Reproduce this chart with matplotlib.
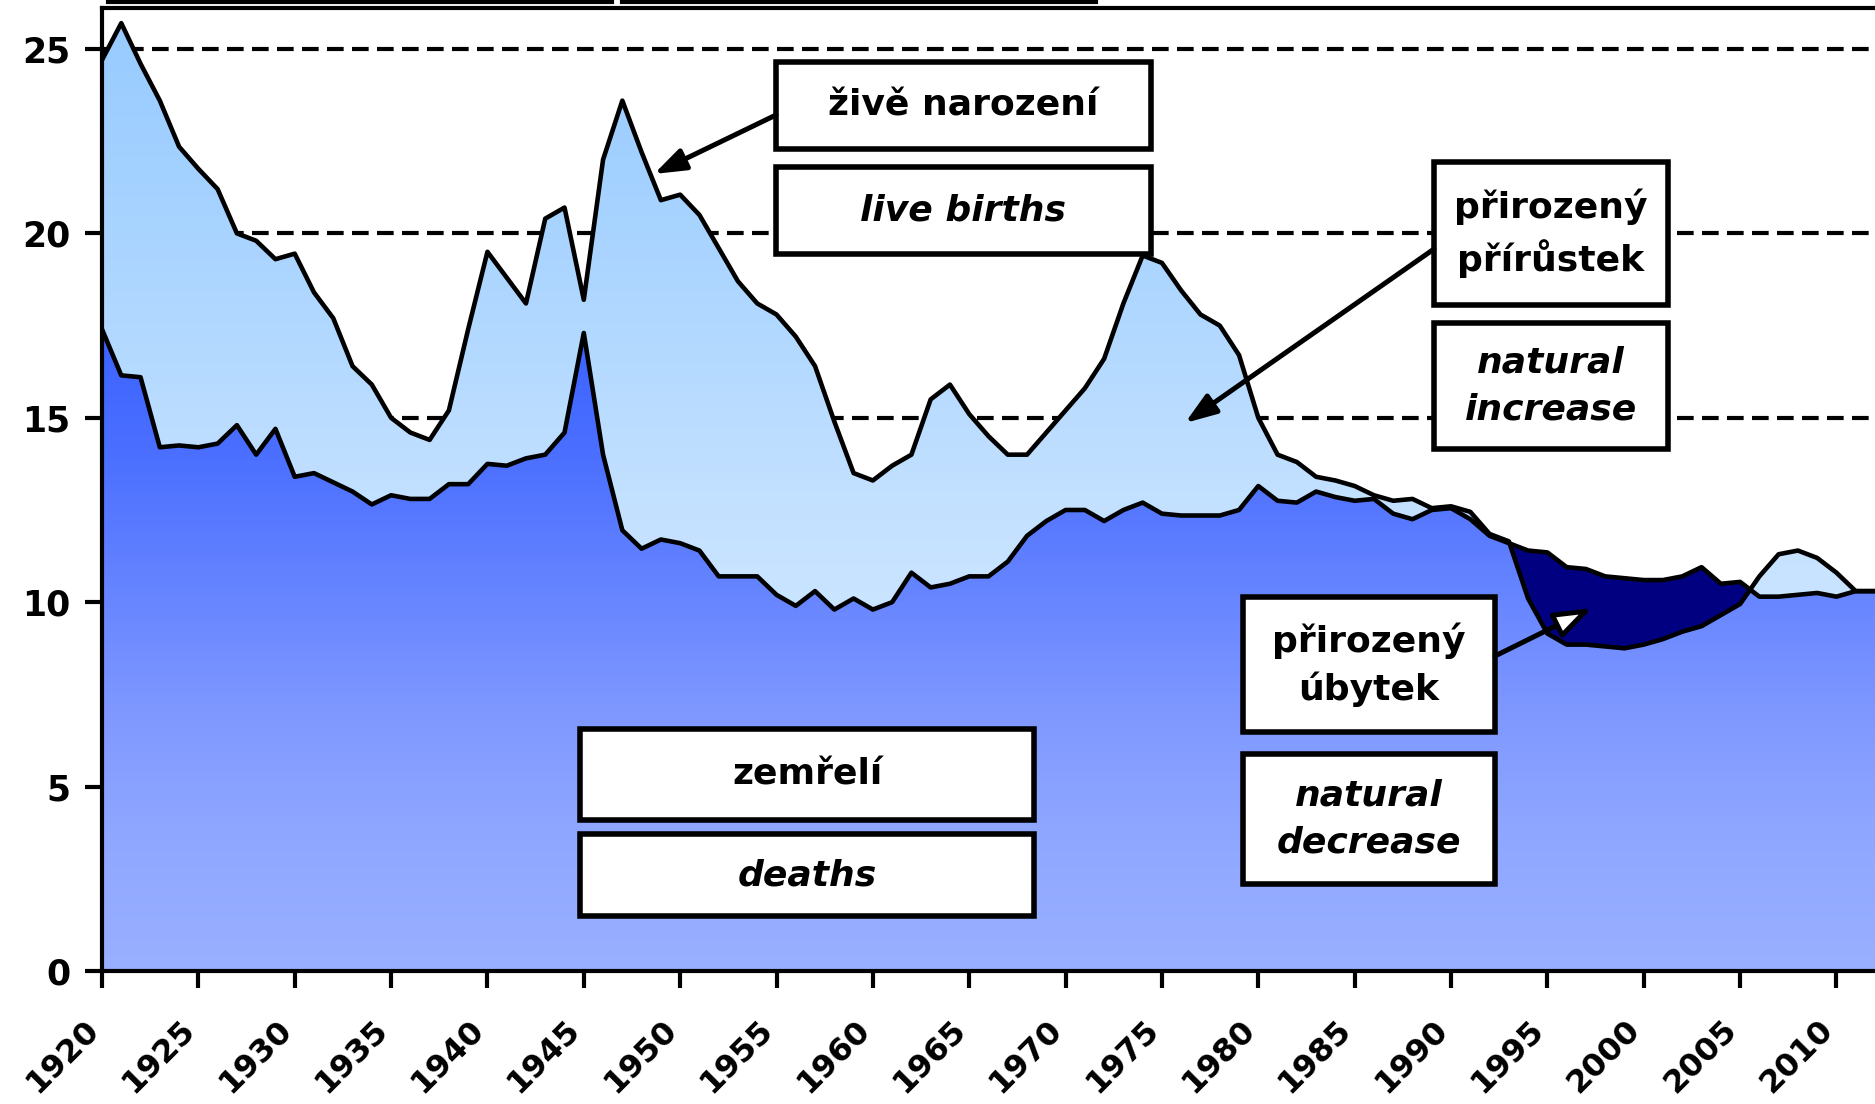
import matplotlib
matplotlib.use("Agg")
import matplotlib.pyplot as plt
import matplotlib.colors as mcolors
import numpy as np
from matplotlib.patches import Rectangle, FancyArrowPatch
from matplotlib.lines import Line2D
from matplotlib.transforms import ScaledTranslation

# live births and deaths per 1000 inhabitants
years = np.arange(1920, 2013)
births = np.array([
    24.7, 25.7, 24.6, 23.6, 22.35, 21.75, 21.2, 20.0, 19.8, 19.3,
    19.45, 18.4, 17.7, 16.4, 15.9, 15.0, 14.6, 14.4, 15.2, 17.4,
    19.5, 18.8, 18.1, 20.4, 20.7, 18.2, 22.0, 23.6, 22.2, 20.9,
    21.05, 20.5, 19.6, 18.7, 18.1, 17.8, 17.2, 16.4, 14.9, 13.5,
    13.3, 13.7, 14.0, 15.5, 15.9, 15.1, 14.5, 14.0, 14.0, 14.6,
    15.2, 15.8, 16.6, 18.1, 19.4, 19.2, 18.45, 17.8, 17.5, 16.7,
    15.0, 14.0, 13.8, 13.4, 13.3, 13.15, 12.9, 12.75, 12.8, 12.55,
    12.6, 12.45, 11.85, 11.65, 10.1, 9.15, 8.85, 8.85, 8.8, 8.75,
    8.85, 9.0, 9.2, 9.35, 9.65, 9.95, 10.7, 11.3, 11.4, 11.2,
    10.8, 10.3, 10.3,
])
deaths = np.array([
    17.4, 16.15, 16.1, 14.2, 14.25, 14.2, 14.3, 14.8, 14.0, 14.7,
    13.4, 13.5, 13.25, 13.0, 12.65, 12.9, 12.8, 12.8, 13.2, 13.2,
    13.75, 13.7, 13.9, 14.0, 14.6, 17.3, 14.0, 11.95, 11.45, 11.7,
    11.6, 11.4, 10.7, 10.7, 10.7, 10.2, 9.9, 10.3, 9.8, 10.1,
    9.8, 10.0, 10.8, 10.4, 10.5, 10.7, 10.7, 11.1, 11.8, 12.2,
    12.5, 12.5, 12.2, 12.5, 12.7, 12.4, 12.35, 12.35, 12.35, 12.5,
    13.15, 12.75, 12.7, 13.0, 12.85, 12.75, 12.8, 12.4, 12.25, 12.5,
    12.55, 12.25, 11.8, 11.6, 11.4, 11.35, 10.95, 10.9, 10.7, 10.65,
    10.6, 10.6, 10.7, 10.95, 10.5, 10.55, 10.15, 10.15, 10.2, 10.25,
    10.15, 10.3, 10.3,
])

y_ticks = [0, 5, 10, 15, 20, 25]
x_ticks = list(range(1920, 2011, 5))
grid_levels = [15, 20, 25]

# gradient colour stops (value on y axis -> colour)
deaths_stops = [0, 4, 7, 10, 14, 17.5]
deaths_cols = ["#99b0ff", "#8ea6ff", "#7f98ff", "#6886ff", "#4b6fff", "#3a62ff"]
births_stops = [9, 13, 17, 21, 25.7]
births_cols = ["#cce6ff", "#c2e0ff", "#b3d9ff", "#a5d2ff", "#98cbff"]

W, H = 1875, 1104
YMAX = 26.1
XMAX = 2012

plt.rcParams['font.family'] = 'DejaVu Sans'
plt.rcParams['font.weight'] = 'bold'

fig = plt.figure(figsize=(W / 100, H / 100), dpi=100)
ax = fig.add_axes([102 / W, 1 - 971 / H, 1 - 102 / W, (971 - 8.4) / H])


def fx(x):
    return x / W


def fy(y):
    return 1 - y / H


def gradient(stops, cols, n=500):
    v = np.linspace(0, YMAX, n)
    rgb = np.array([mcolors.to_rgb(c) for c in cols])
    img = np.stack([np.interp(v, stops, rgb[:, k]) for k in range(3)], axis=-1)
    return img[:, None, :]


def gradient_fill(upper, stops, cols, z):
    poly = ax.fill_between(years, 0, upper, facecolor='none', edgecolor='none', zorder=z)
    im = ax.imshow(gradient(stops, cols), extent=(1920, XMAX, 0, YMAX),
                   origin='lower', aspect='auto', zorder=z)
    im.set_clip_path(poly.get_paths()[0], transform=ax.transData)


# dashed grid lines (behind the areas)
for lv in grid_levels:
    ax.axhline(lv, color='k', lw=3, ls=(0, (4, 2)), zorder=0.5)

gradient_fill(births, births_stops, births_cols, 1)
gradient_fill(deaths, deaths_stops, deaths_cols, 2)
ax.fill_between(years, births, deaths, where=deaths > births, interpolate=True,
                facecolor='#000080', edgecolor='none', zorder=3)
ax.plot(years, births, color='k', lw=3.3, zorder=4)
ax.plot(years, deaths, color='k', lw=3.3, zorder=4)

ax.set_xlim(1920, XMAX)
ax.set_ylim(0, YMAX)

for s in ['left', 'top', 'bottom']:
    ax.spines[s].set_linewidth(3)
ax.spines['right'].set_visible(False)

ax.set_yticks(y_ticks)
ax.set_yticklabels([str(t) for t in y_ticks], fontsize=25, fontweight='bold')
ax.tick_params(axis='y', direction='out', length=12, width=3, pad=11)
ax.set_xticks(x_ticks)
ax.set_xticklabels([])
ax.tick_params(axis='x', direction='out', length=12, width=3)

lab_off = ScaledTranslation(-8 / 100, -54 / 100, fig.dpi_scale_trans)
for t in x_ticks:
    ax.text(t, 0, str(t), transform=ax.get_xaxis_transform() + lab_off,
            rotation=45, rotation_mode='anchor', ha='right', va='center',
            fontsize=23, fontweight='bold', clip_on=False)


# labelled boxes
def box(x0, y0, x1, y1, text, style='normal'):
    fig.add_artist(Rectangle((fx(x0), fy(y1)), (x1 - x0) / W, (y1 - y0) / H,
                             transform=fig.transFigure, facecolor='white',
                             edgecolor='black', lw=4, zorder=5))
    fig.text(fx((x0 + x1) / 2), fy((y0 + y1) / 2), text, ha='center', va='center',
             fontsize=26, fontweight='bold', fontstyle=style, linespacing=1.45, zorder=6)


def arrow(x0, y0, x1, y1, head='black', scale=42):
    fig.add_artist(FancyArrowPatch((fx(x0), fy(y0)), (fx(x1), fy(y1)),
                                   transform=fig.transFigure,
                                   arrowstyle='-|>,head_length=0.45,head_width=0.16',
                                   mutation_scale=scale, lw=3.6, edgecolor='black',
                                   facecolor=head, shrinkA=0, shrinkB=0, zorder=5))


box(776, 62, 1151, 149, 'živě narození')
box(776, 167, 1151, 254, 'live births', 'italic')
box(1434, 162, 1668, 305, 'přirozený\npřírůstek')
box(1434, 323, 1668, 449, 'natural\nincrease', 'italic')
box(580, 729, 1034, 820, 'zemřelí')
box(580, 834, 1034, 916, 'deaths', 'italic')
box(1243, 597, 1495, 732, 'přirozený\núbytek')
box(1243, 754, 1495, 884, 'natural\ndecrease', 'italic')

arrow(776, 115, 654, 174)
arrow(1434, 249, 1185, 423)
arrow(1495, 656, 1592, 608, head='white', scale=50)

# bottoms of the boxes cut off above the chart
for xa, xb in [(108, 612), (622, 1096)]:
    fig.add_artist(Line2D([fx(xa), fx(xb)], [fy(1.5), fy(1.5)], color='black', lw=3,
                          transform=fig.transFigure))

fig.savefig('out.png', dpi=100)
